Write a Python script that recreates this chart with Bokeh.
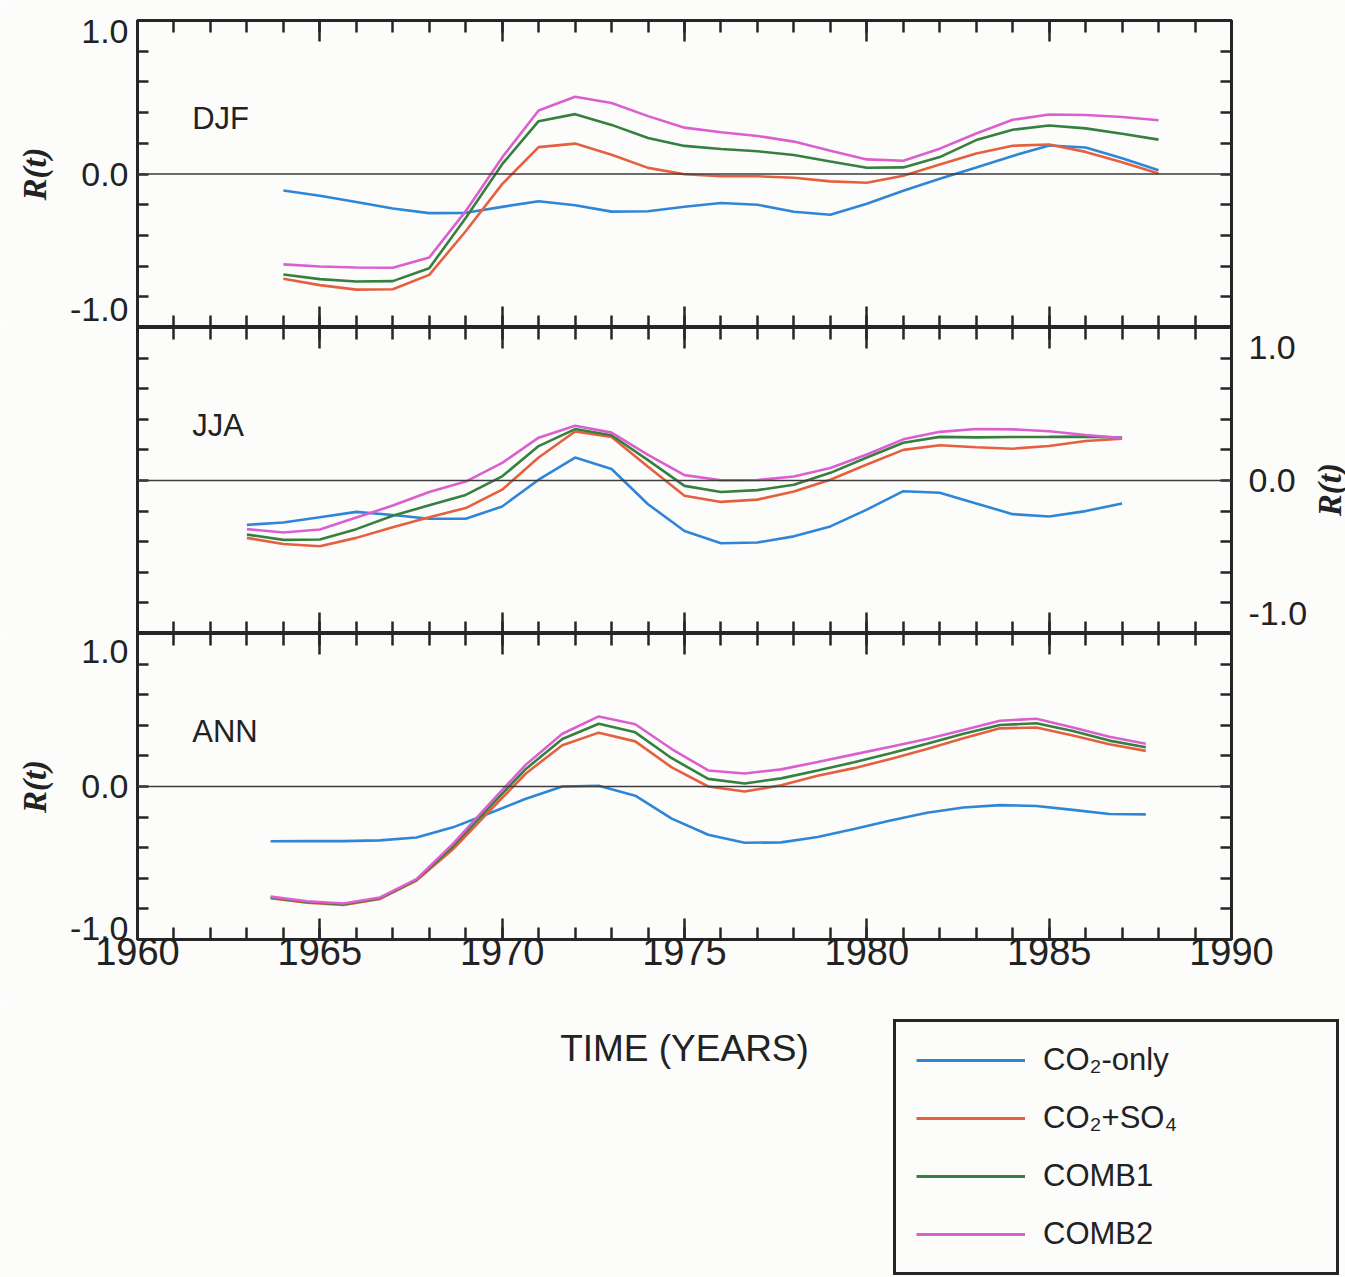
import math
from bokeh.plotting import figure
from bokeh.models import (LinearAxis, FixedTicker, Span, Legend, LegendItem, Range1d,
                          CustomJSTickFormatter)
from bokeh.layouts import column, row
from bokeh.embed import file_html
from bokeh.resources import INLINE
from bokeh.core.properties import value

# ---------------- data ----------------
years_djf = list(range(1964, 1989))
years_jja = list(range(1963, 1988))
years_ann = [y + 0.65 for y in range(1963, 1988)]

djf_co2 = [-0.107, -0.142, -0.183, -0.225, -0.255, -0.253, -0.214, -0.177, -0.204, -0.245,
           -0.243, -0.213, -0.189, -0.200, -0.246, -0.265, -0.194, -0.109, -0.031, 0.043,
           0.118, 0.186, 0.173, 0.103, 0.024]
djf_co2so4 = [-0.683, -0.724, -0.753, -0.751, -0.657, -0.373, -0.066, 0.175, 0.198, 0.125,
              0.040, -0.002, -0.015, -0.015, -0.024, -0.048, -0.057, -0.012, 0.062, 0.134,
              0.184, 0.192, 0.144, 0.077, 0.003]
djf_comb1 = [-0.655, -0.685, -0.700, -0.698, -0.614, -0.286, 0.064, 0.344, 0.390, 0.320,
             0.235, 0.183, 0.163, 0.148, 0.124, 0.082, 0.041, 0.043, 0.110, 0.221,
             0.288, 0.316, 0.297, 0.262, 0.224]
djf_comb2 = [-0.589, -0.603, -0.609, -0.611, -0.544, -0.242, 0.108, 0.414, 0.503, 0.462,
             0.377, 0.302, 0.272, 0.248, 0.211, 0.152, 0.095, 0.086, 0.165, 0.264,
             0.353, 0.388, 0.384, 0.371, 0.350]

jja_co2 = [-0.290, -0.275, -0.240, -0.205, -0.225, -0.250, -0.250, -0.170, 0.005, 0.150,
           0.075, -0.155, -0.330, -0.410, -0.405, -0.365, -0.300, -0.190, -0.070, -0.080,
           -0.150, -0.220, -0.235, -0.200, -0.150]
jja_co2so4 = [-0.375, -0.415, -0.430, -0.375, -0.305, -0.240, -0.180, -0.060, 0.150, 0.320,
              0.285, 0.090, -0.100, -0.140, -0.125, -0.072, 0.005, 0.105, 0.200, 0.230,
              0.217, 0.208, 0.226, 0.258, 0.273]
jja_comb1 = [-0.353, -0.388, -0.386, -0.318, -0.230, -0.162, -0.094, 0.027, 0.225, 0.336,
             0.296, 0.133, -0.035, -0.075, -0.063, -0.028, 0.050, 0.150, 0.247, 0.285,
             0.282, 0.284, 0.285, 0.287, 0.281]
jja_comb2 = [-0.318, -0.340, -0.320, -0.242, -0.164, -0.075, -0.007, 0.115, 0.280, 0.358,
             0.313, 0.167, 0.035, 0.002, 0.003, 0.026, 0.082, 0.170, 0.269, 0.318,
             0.337, 0.334, 0.322, 0.297, 0.277]

ann_co2 = [-0.358, -0.357, -0.357, -0.352, -0.333, -0.267, -0.175, -0.080, 0.000, 0.005,
           -0.060, -0.210, -0.315, -0.368, -0.365, -0.330, -0.278, -0.222, -0.172, -0.137,
           -0.122, -0.127, -0.153, -0.180, -0.182]
ann_co2so4 = [-0.730, -0.760, -0.775, -0.735, -0.615, -0.410, -0.160, 0.085, 0.270, 0.352,
              0.295, 0.125, 0.000, -0.033, 0.008, 0.070, 0.120, 0.180, 0.245, 0.315,
              0.380, 0.386, 0.334, 0.276, 0.233]
ann_comb1 = [-0.725, -0.755, -0.770, -0.730, -0.610, -0.390, -0.135, 0.115, 0.310, 0.410,
             0.354, 0.185, 0.050, 0.020, 0.053, 0.105, 0.158, 0.218, 0.280, 0.345,
             0.402, 0.413, 0.363, 0.300, 0.256]
ann_comb2 = [-0.720, -0.750, -0.765, -0.725, -0.605, -0.375, -0.114, 0.143, 0.345, 0.458,
             0.407, 0.245, 0.105, 0.085, 0.112, 0.160, 0.210, 0.260, 0.310, 0.370,
             0.430, 0.443, 0.386, 0.325, 0.280]

panel_names = ["DJF", "JJA", "ANN"]
series_names = ["CO\u2082-only", "CO\u2082+SO\u2084", "COMB1", "COMB2"]
series_colors = ["#2f86d6", "#e5603e", "#35803f", "#dc5fd0"]
x_title = "TIME (YEARS)"
y_title = "R(t)"

x_major = [1960, 1965, 1970, 1975, 1980, 1985, 1990]
x_minor = list(range(1960, 1991))
y_minor = [-1.0, -0.8, -0.6, -0.4, -0.2, 0.0, 0.2, 0.4, 0.6, 0.8, 1.0]
y_label_text = ["-1.0", "0.0", "1.0"]
# where the three value labels sit (nudged inside the frame as in the original)
y_label_pos = {
    "DJF": [-0.88, 0.0, 0.93],
    "JJA": [-0.87, 0.0, 0.87],
    "ANN": [-0.93, 0.0, 0.88],
}

# ---------------- style ----------------
BG = "#fcfcfb"
INK = "#262626"
TXT = "#222222"
FONT = "Liberation Sans"
SERIF = "Liberation Serif"
FRAME_W = 1094
LEFT_B = 137
RIGHT_B = 114
RT_W = 38                     # strip that holds the right-hand R(t) title of the JJA panel


def style_ticks(ax):
    ax.axis_line_color = None
    ax.major_tick_line_color = INK
    ax.minor_tick_line_color = INK
    ax.major_tick_line_width = 2.5
    ax.minor_tick_line_width = 2.5
    ax.major_tick_out = 0
    ax.minor_tick_out = 0
    ax.major_label_text_font = FONT
    ax.major_label_text_color = TXT


def hide_labels(ax):
    ax.major_label_text_color = None
    ax.major_label_standoff = 0


def make_xaxis(labels):
    ax = LinearAxis(ticker=FixedTicker(ticks=x_major, minor_ticks=x_minor))
    style_ticks(ax)
    ax.major_tick_in = 21
    ax.minor_tick_in = 12
    if labels:
        ax.major_label_text_font_size = "38px"
        ax.major_label_standoff = -2
    else:
        hide_labels(ax)
    return ax


def make_yaxis(labels, side, pos):
    ax = LinearAxis(ticker=FixedTicker(ticks=pos, minor_ticks=y_minor))
    style_ticks(ax)
    ax.major_tick_in = 0
    ax.minor_tick_in = 11
    if labels:
        ax.formatter = CustomJSTickFormatter(
            args=dict(pos=pos, txt=y_label_text),
            code="""
            let best = 0;
            for (let i = 0; i < pos.length; i++) {
                if (Math.abs(pos[i] - tick) < Math.abs(pos[best] - tick)) best = i;
            }
            return txt[best];
            """)
        ax.major_label_text_font_size = "34px"
        if side == "left":
            ax.major_label_standoff = 9
            ax.axis_label = y_title
            ax.axis_label_text_font = SERIF
            ax.axis_label_text_font_style = "bold italic"
            ax.axis_label_text_font_size = "33px"
            ax.axis_label_text_color = TXT
            ax.axis_label_standoff = 14
        else:
            ax.major_label_standoff = 17
    else:
        hide_labels(ax)
    return ax


def make_panel(idx, xs, series, left_lab, right_lab, bottom_lab, frame_h, top_b, bottom_b,
               right_b=RIGHT_B):
    name = panel_names[idx]
    p = figure(frame_width=FRAME_W, frame_height=frame_h,
               x_range=Range1d(1960, 1990), y_range=Range1d(-1, 1),
               x_axis_location=None, y_axis_location=None,
               output_backend="svg", toolbar_location=None,
               min_border_left=LEFT_B, min_border_right=right_b,
               min_border_top=top_b, min_border_bottom=bottom_b,
               background_fill_color=BG, border_fill_color=BG,
               outline_line_color=INK, outline_line_width=3)
    p.grid.visible = False
    p.add_layout(make_xaxis(False), "above")
    p.add_layout(make_xaxis(bottom_lab), "below")
    p.add_layout(make_yaxis(left_lab, "left", y_label_pos[name]), "left")
    p.add_layout(make_yaxis(right_lab, "right", y_label_pos[name]), "right")
    p.add_layout(Span(location=0, dimension="width", line_color="#3c3c3c", line_width=1.6))
    for vals, col in zip(series, series_colors):
        p.line(xs, vals, line_color=col, line_width=2.6)
    p.text(x=[1961.5], y=[0.36], text=[name], text_font=value(FONT),
           text_font_size="31px", text_baseline="middle", text_align="left",
           text_color=TXT)
    return p


ann_series = [ann_co2, ann_co2so4, ann_comb1, ann_comb2]
p1 = make_panel(0, years_djf, [djf_co2, djf_co2so4, djf_comb1, djf_comb2],
                True, False, False, 307, 20, 0)
p2 = make_panel(1, years_jja, [jja_co2, jja_co2so4, jja_comb1, jja_comb2],
                False, True, False, 306, 0, 0, right_b=RIGHT_B - RT_W)
p3 = make_panel(2, years_ann, ann_series, True, False, True, 306, 0, 61)

# right-hand R(t) title of the JJA panel, reading upwards, on the JJA value scale
p_rt = figure(frame_width=RT_W, frame_height=306,
              x_range=Range1d(0, 1), y_range=Range1d(-1, 1),
              x_axis_location=None, y_axis_location=None,
              output_backend="svg", toolbar_location=None,
              min_border_left=0, min_border_right=0, min_border_top=0, min_border_bottom=0,
              background_fill_color=BG, border_fill_color=BG, outline_line_color=None)
p_rt.grid.visible = False
p_rt.text(x=[0.5], y=[-0.06], text=[y_title], angle=math.pi / 2,
          text_font=value(SERIF), text_font_style="bold italic", text_font_size="33px",
          text_align="center", text_baseline="middle", text_color=TXT)

# ---- bottom strip: x-axis title (left) and legend box (right) ----
LEFT_W = 756                      # frame width of the title strip (ends where legend starts)
px_per_year = FRAME_W / 30.0
p_title = figure(frame_width=LEFT_W, frame_height=277,
                 x_range=Range1d(1960, 1960 + LEFT_W / px_per_year), y_range=Range1d(0, 1),
                 x_axis_location=None, y_axis_location=None,
                 output_backend="svg", toolbar_location=None,
                 min_border_left=LEFT_B, min_border_right=0, min_border_top=0, min_border_bottom=0,
                 background_fill_color=BG, border_fill_color=BG, outline_line_color=None)
p_title.grid.visible = False
p_title.text(x=[1975], y=[0.827], text=[x_title], text_font=value(FONT),
             text_font_size="37px", text_baseline="middle", text_align="center",
             text_color=TXT)

# legend strip: the key lines carry the ANN series (outside this strip's view)
p_leg = figure(frame_width=452, frame_height=277,
               x_range=Range1d(0, 1), y_range=Range1d(0, 1),
               x_axis_location=None, y_axis_location=None,
               output_backend="svg", toolbar_location=None,
               min_border_left=0, min_border_right=0, min_border_top=0, min_border_bottom=0,
               background_fill_color=BG, border_fill_color=BG, outline_line_color=None)
p_leg.grid.visible = False
leg_rends = [p_leg.line(years_ann, vals, line_color=c, line_width=2.8)
             for vals, c in zip(ann_series, series_colors)]
legend = Legend(items=[LegendItem(label=n, renderers=[r]) for n, r in zip(series_names, leg_rends)],
                location=(0, 2))
legend.border_line_color = INK
legend.border_line_alpha = 1.0
legend.border_line_width = 3
legend.background_fill_color = BG
legend.background_fill_alpha = 1.0
legend.label_text_font = FONT
legend.label_text_font_size = "31px"
legend.label_text_color = TXT
legend.glyph_width = 109
legend.glyph_height = 36
legend.label_height = 36
legend.label_standoff = 18
legend.label_width = 273
legend.padding = 20
legend.spacing = 22
legend.margin = 0
p_leg.add_layout(legend)

layout = column(p1, row(p2, p_rt, spacing=0), p3, row(p_title, p_leg, spacing=0), spacing=0)

with open("out.html", "w") as f:
    f.write(file_html(layout, INLINE))
